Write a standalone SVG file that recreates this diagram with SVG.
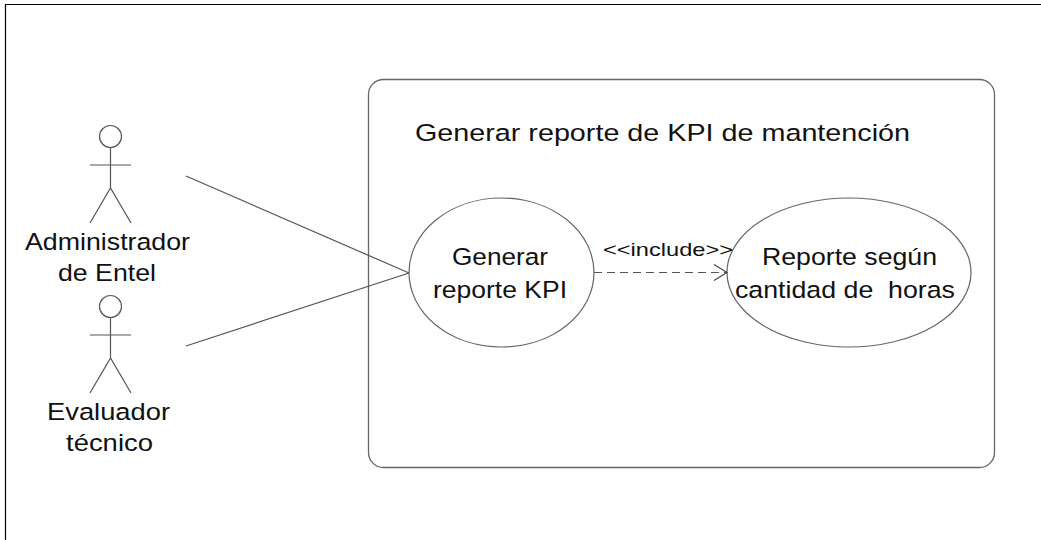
<svg xmlns="http://www.w3.org/2000/svg" width="1041" height="540" viewBox="0 0 1041 540">
<defs>
<style>
.ln{stroke:#555;stroke-width:1.2;fill:none}
.fr{stroke:#000;stroke-width:1.2;fill:none}
.t{font-family:"Liberation Sans",Arial,sans-serif;font-size:24.5px;fill:#111;text-anchor:middle}
.s{font-family:"Liberation Sans",Arial,sans-serif;font-size:19px;fill:#111;text-anchor:middle}
</style>
<marker id="oa" markerWidth="16" markerHeight="18" refX="14" refY="9" orient="auto" markerUnits="userSpaceOnUse">
<path d="M1,1 L14,9 L1,17" fill="none" stroke="#444" stroke-width="1.2"/>
</marker>
</defs>
<rect width="1041" height="540" fill="#fff"/>
<path class="fr" d="M5.5,540 V4.5 H1041"/>
<g id="system">
<rect x="368.5" y="79.5" width="626" height="388" rx="15" ry="15" fill="#fff" stroke="#666" stroke-width="1.3"/>
<text class="t" x="662.5" y="141" textLength="495" lengthAdjust="spacingAndGlyphs">Generar reporte de KPI de mantención</text>
</g>
<g id="actor-admin">
<circle class="ln" cx="110.5" cy="136.5" r="11"/>
<path class="ln" d="M110.5,147.5 V188 M90,165 H131 M90,223 L110.5,188 L131,223"/>
<text class="t" x="107.5" y="250" textLength="165" lengthAdjust="spacingAndGlyphs">Administrador</text>
<text class="t" x="107" y="281" textLength="98" lengthAdjust="spacingAndGlyphs">de Entel</text>
</g>
<g id="actor-evaluador">
<circle class="ln" cx="110.5" cy="306.5" r="11"/>
<path class="ln" d="M110.5,317.5 V358 M90,335 H131 M90,393 L110.5,358 L131,393"/>
<text class="t" x="108.5" y="420" textLength="123" lengthAdjust="spacingAndGlyphs">Evaluador</text>
<text class="t" x="109.5" y="451" textLength="87" lengthAdjust="spacingAndGlyphs">técnico</text>
</g>
<g id="uc-generar">
<ellipse cx="501.5" cy="272.5" rx="92.5" ry="74.5" fill="#fff" stroke="#666" stroke-width="1.2"/>
<text class="t" x="500" y="265" textLength="96" lengthAdjust="spacingAndGlyphs">Generar</text>
<text class="t" x="500" y="298" textLength="134" lengthAdjust="spacingAndGlyphs">reporte KPI</text>
</g>
<g id="uc-reporte">
<ellipse cx="849" cy="272.5" rx="122" ry="74.5" fill="#fff" stroke="#666" stroke-width="1.2"/>
<text class="t" x="849.5" y="265" textLength="175" lengthAdjust="spacingAndGlyphs">Reporte según</text>
<text class="t" x="845" y="298" textLength="220" lengthAdjust="spacingAndGlyphs" xml:space="preserve">cantidad de  horas</text>
</g>
<g id="connectors">
<line class="ln" x1="186" y1="176" x2="409" y2="273"/>
<line class="ln" x1="186" y1="346" x2="409" y2="273"/>
<line class="ln" x1="594" y1="272.5" x2="727" y2="272.5" stroke-dasharray="8,5" marker-end="url(#oa)"/>
<text class="s" x="668" y="256" textLength="130" lengthAdjust="spacingAndGlyphs">&lt;&lt;include&gt;&gt;</text>
</g>
</svg>
